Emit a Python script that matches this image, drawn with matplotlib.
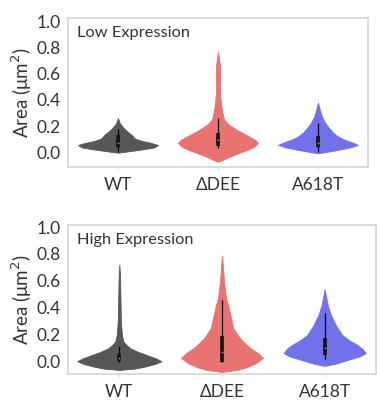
import numpy as np
import matplotlib
matplotlib.use("Agg")
import matplotlib.pyplot as plt

plt.rcParams['font.family'] = ['Lato', 'DejaVu Sans']

categories = ["WT", "ΔDEE", "A618T"]
colors = ["#575757", "#E97272", "#7171E9"]
panel_titles = ["Low Expression", "High Expression"]

# Violin outlines: (value levels, half-widths in category units)
low_profiles = [
    ([-0.005, 0.005, 0.02, 0.035, 0.054, 0.07, 0.085, 0.10, 0.11, 0.13, 0.16, 0.19, 0.22, 0.26],
     [0.0, 0.10, 0.24, 0.36, 0.40, 0.33, 0.24, 0.18, 0.16, 0.14, 0.09, 0.05, 0.02, 0.0]),
    ([-0.075, -0.06, -0.035, -0.01, 0.015, 0.04, 0.07, 0.095, 0.12, 0.145, 0.17, 0.21, 0.25,
      0.30, 0.35, 0.45, 0.52, 0.58, 0.66, 0.72, 0.77],
     [0.0, 0.05, 0.12, 0.20, 0.29, 0.36, 0.40, 0.37, 0.31, 0.25, 0.19, 0.11, 0.06,
      0.045, 0.035, 0.02, 0.018, 0.022, 0.02, 0.01, 0.0]),
    ([-0.01, 0.0, 0.015, 0.035, 0.055, 0.075, 0.10, 0.125, 0.15, 0.185, 0.22, 0.27, 0.32, 0.38],
     [0.0, 0.08, 0.19, 0.32, 0.40, 0.34, 0.25, 0.19, 0.15, 0.11, 0.075, 0.04, 0.02, 0.0]),
]
high_profiles = [
    ([-0.06, -0.05, -0.035, -0.015, 0.005, 0.025, 0.05, 0.075, 0.10, 0.125, 0.15, 0.20, 0.30,
      0.50, 0.65, 0.72],
     [0.0, 0.15, 0.25, 0.35, 0.41, 0.36, 0.27, 0.18, 0.11, 0.07, 0.04, 0.025, 0.015,
      0.01, 0.006, 0.0]),
    ([-0.075, -0.06, -0.04, -0.01, 0.03, 0.065, 0.10, 0.14, 0.18, 0.25, 0.35, 0.42, 0.47,
      0.59, 0.70, 0.79],
     [0.0, 0.15, 0.24, 0.33, 0.40, 0.35, 0.28, 0.22, 0.17, 0.11, 0.08, 0.06, 0.04,
      0.02, 0.01, 0.0]),
    ([-0.03, -0.015, 0.015, 0.04, 0.065, 0.095, 0.125, 0.16, 0.20, 0.27, 0.35, 0.42, 0.54],
     [0.0, 0.10, 0.23, 0.34, 0.40, 0.37, 0.32, 0.24, 0.17, 0.11, 0.06, 0.03, 0.0]),
]
# inner box stats: (whisker low, q1, median, q3, whisker high)
low_box = [(0.0, 0.035, 0.07, 0.13, 0.18), (0.03, 0.05, 0.09, 0.15, 0.26), (0.0, 0.04, 0.07, 0.12, 0.22)]
high_box = [(0.0, 0.01, 0.03, 0.06, 0.12), (0.0, 0.0, 0.07, 0.19, 0.46), (0.02, 0.05, 0.10, 0.18, 0.36)]

fig = plt.figure(figsize=(3.77, 4.0), dpi=100)
W, H = 377, 400
axes_px = [(68, 18, 368, 167), (68, 225, 376, 374)]
ylims = [(-0.115, 1.03), (-0.09, 1.015)]

for k, (profiles, boxes) in enumerate([(low_profiles, low_box), (high_profiles, high_box)]):
    x0, y0, x1, y1 = axes_px[k]
    ax = fig.add_axes([x0 / W, 1 - y1 / H, (x1 - x0) / W, (y1 - y0) / H])
    for i, ((ys, hw), bx) in enumerate(zip(profiles, boxes)):
        ys = np.array(ys); hw = np.array(hw)
        ax.fill_betweenx(ys, i - hw, i + hw, color=colors[i], lw=0.6, edgecolor=colors[i])
        ax.plot([i, i], [bx[0], bx[4]], color="black", lw=0.9, solid_capstyle="butt")
        ax.plot([i, i], [bx[1], bx[3]], color="#111111", lw=2.6, solid_capstyle="butt")
        ax.plot([i], [bx[2]], marker="o", ms=1.3, color="#999999", mec="none")
    ax.set_xlim(-0.5, 2.5)
    ax.set_ylim(*ylims[k])
    ax.set_xticks(range(3))
    ax.set_xticklabels(categories)
    ax.set_yticks([0, 0.2, 0.4, 0.6, 0.8, 1.0])
    ax.set_yticklabels(["0.0", "0.2", "0.4", "0.6", "0.8", "1.0"])
    ax.tick_params(axis="x", length=2, color="#dddddd", labelsize=12.5, labelcolor="#333333", pad=5)
    ax.tick_params(axis="y", length=0, labelsize=12.5, labelcolor="#333333", pad=5)
    for s in ax.spines.values():
        s.set_color("#d4d4d4")
        s.set_linewidth(1.2)
    ax.text(0.03, 0.945, panel_titles[k], transform=ax.transAxes, fontsize=11.8,
            color="#333333", va="top", ha="left")
    ax.set_ylabel("Area (μm$^2$)", fontsize=13.5, color="#333333", labelpad=2)

fig.savefig("out.png", dpi=100, facecolor="white")
